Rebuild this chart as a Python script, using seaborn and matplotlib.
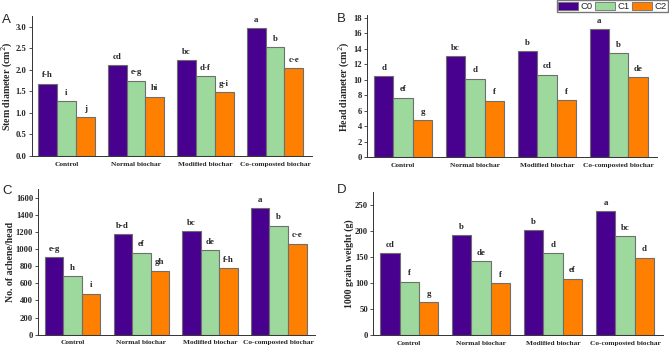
import matplotlib
matplotlib.use("Agg")
import matplotlib.pyplot as plt
import seaborn as sns
import pandas as pd
from matplotlib.patches import Patch

sns.set_style("white")
plt.rcParams['font.family'] = ['Liberation Serif', 'DejaVu Serif']

categories = ["Control", "Normal biochar", "Modified biochar", "Co-composted biochar"]
series = ["C0", "C1", "C2"]
colors = ["#48008E", "#9DD89D", "#FF7F00"]

stem_C0 = [1.68, 2.11, 2.22, 2.96]
stem_C1 = [1.27, 1.75, 1.85, 2.52]
stem_C2 = [0.90, 1.38, 1.48, 2.04]
stem_let = [["f-h", "cd", "bc", "a"], ["i", "e-g", "d-f", "b"], ["j", "hi", "g-i", "c-e"]]

head_C0 = [10.5, 13.0, 13.7, 16.5]
head_C1 = [7.7, 10.15, 10.65, 13.4]
head_C2 = [4.8, 7.3, 7.4, 10.3]
head_let = [["d", "bc", "b", "a"], ["ef", "d", "cd", "b"], ["g", "f", "f", "de"]]

ach_C0 = [905, 1180, 1215, 1485]
ach_C1 = [690, 960, 990, 1275]
ach_C2 = [480, 750, 780, 1065]
ach_let = [["e-g", "b-d", "bc", "a"], ["h", "ef", "de", "b"], ["i", "gh", "f-h", "c-e"]]

grain_C0 = [158, 193, 202, 238]
grain_C1 = [103, 142, 157, 190]
grain_C2 = [64, 100, 109, 149]
grain_let = [["cd", "b", "b", "a"], ["f", "de", "d", "bc"], ["g", "f", "ef", "d"]]

panels = [
    ("A", "Stem diameter (cm$^{2}$)", [stem_C0, stem_C1, stem_C2], stem_let, (0, 3.25),
     [0, 0.5, 1.0, 1.5, 2.0, 2.5, 3.0], "{:.1f}", [0.0474, 0.5504, 0.4186, 0.4036], (0.003, 0.934)),
    ("B", "Head diameter (cm$^{2}$)", [head_C0, head_C1, head_C2], head_let, (0, 18.35),
     list(range(0, 19, 2)), "{:d}", [0.549, 0.5467, 0.4326, 0.4103], (0.503, 0.936)),
    ("C", "No. of achene/head", [ach_C0, ach_C1, ach_C2], ach_let, (0, 1700),
     list(range(0, 1601, 200)), "{:d}", [0.0573, 0.0354, 0.4137, 0.4191], (0.003, 0.441)),
    ("D", "1000 grain weight (g)", [grain_C0, grain_C1, grain_C2], grain_let, (0, 275),
     list(range(0, 251, 50)), "{:d}", [0.558, 0.0337, 0.433, 0.413], (0.503, 0.444)),
]

fig = plt.figure(figsize=(6.69, 3.47), dpi=100)

for letter, ylabel, vals, lets, ylim, yticks, fmt, pos, lpos in panels:
    ax = fig.add_axes(pos)
    rows = []
    for s, v in zip(series, vals):
        for c, x in zip(categories, v):
            rows.append({"cat": c, "series": s, "val": x})
    df = pd.DataFrame(rows)
    sns.barplot(data=df, x="cat", y="val", hue="series", order=categories,
                hue_order=series, palette=colors, saturation=1, width=0.81, gap=0,
                edgecolor="#6e6e6e", linewidth=0.8, errorbar=None, ax=ax, legend=False)
    for cont, lab in zip(ax.containers, lets):
        ax.bar_label(cont, labels=lab, padding=3, fontsize=6.4, fontweight="bold")
    ax.set_xlim(-0.5, 3.53)
    ax.set_ylim(*ylim)
    ax.set_yticks(yticks)
    ax.set_yticklabels([fmt.format(t) for t in yticks], fontsize=6.2, fontweight="bold")
    ax.set_xticks(range(4))
    ax.set_xticklabels(categories, fontsize=5.3, fontweight="bold")
    ax.set_xticks([0.5, 1.5, 2.5], minor=True)
    ax.tick_params(axis="x", which="major", length=0, pad=4)
    ax.tick_params(axis="x", which="minor", length=2.5, width=0.6, direction="out", color="#333333")
    ax.tick_params(axis="y", length=2.5, width=0.6, direction="out", pad=1.2, color="#333333", left=True)
    ax.set_xlabel("")
    ax.set_ylabel(ylabel, fontsize=7.1, fontweight="bold", labelpad=0.8)
    for sp in ["top", "right"]:
        ax.spines[sp].set_visible(False)
    for sp in ["left", "bottom"]:
        ax.spines[sp].set_linewidth(0.7)
        ax.spines[sp].set_color("#333333")
    fig.text(lpos[0], lpos[1], letter, fontsize=9.5, family="Liberation Sans", ha="left", va="baseline")

handles = [Patch(facecolor=c, edgecolor="#6e6e6e", linewidth=0.6) for c in colors]
fig.legend(handles, series, loc="upper right", bbox_to_anchor=(0.999, 0.999), ncol=3,
           frameon=True, fancybox=False, edgecolor="#555555",
           prop={"family": "Liberation Sans", "size": 6.8},
           handlelength=2.1, handleheight=0.95, handletextpad=0.25, columnspacing=0.3,
           borderpad=0.15, borderaxespad=0.0)

fig.savefig("out.png", dpi=100)
